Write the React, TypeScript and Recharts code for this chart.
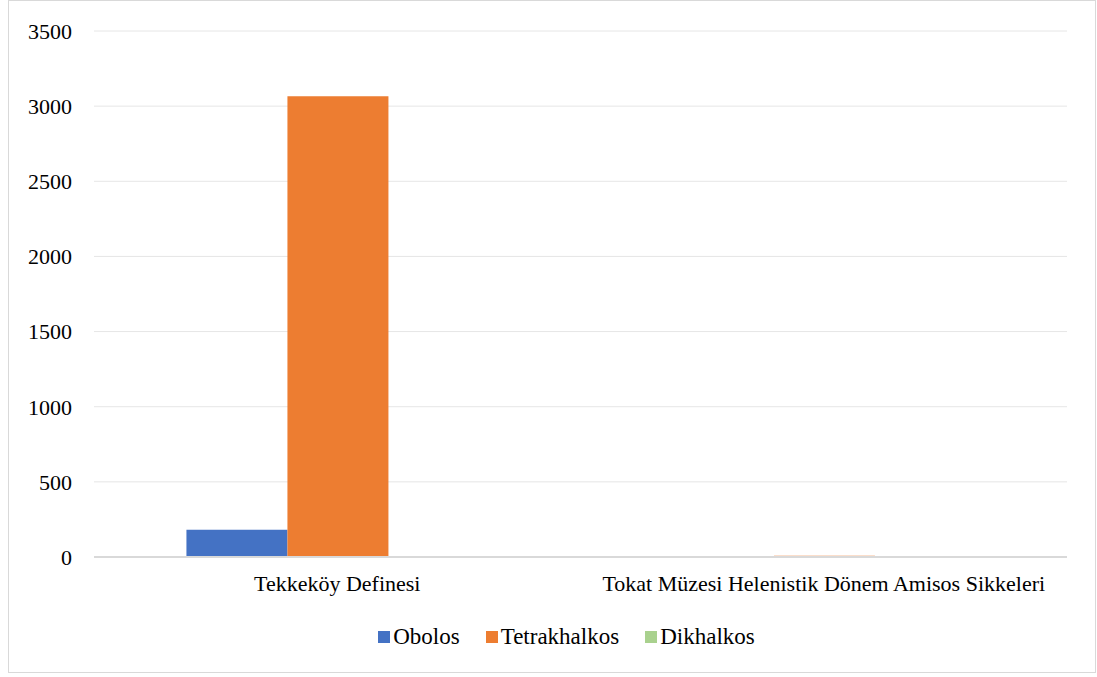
import { BarChart, Bar, XAxis, YAxis, CartesianGrid, Legend } from 'recharts';

const categories = ['Tekkeköy Definesi', 'Tokat Müzesi Helenistik Dönem Amisos Sikkeleri'];
const obolos = [182, 0];
const tetrakhalkos = [3066, 8];
const dikhalkos = [0, 7];
const yTicks = [0, 500, 1000, 1500, 2000, 2500, 3000, 3500];

const seriesList = [
  { key: 'obolos', name: 'Obolos', color: '#4472C4' },
  { key: 'tetrakhalkos', name: 'Tetrakhalkos', color: '#ED7D31' },
  { key: 'dikhalkos', name: 'Dikhalkos', color: '#A9D18E' },
];

const data = categories.map((name, i) => ({
  name,
  obolos: obolos[i],
  tetrakhalkos: tetrakhalkos[i],
  dikhalkos: dikhalkos[i],
}));

const font = 'Liberation Serif, Tinos, DejaVu Serif, serif';

function LegendContent() {
  return (
    <div
      style={{
        display: 'flex',
        justifyContent: 'center',
        gap: 26,
        marginLeft: 85,
        marginRight: 28,
        fontFamily: font,
        fontSize: 23,
        color: '#000',
      }}
    >
      {seriesList.map((s) => (
        <div key={s.key} style={{ display: 'flex', alignItems: 'center' }}>
          <span style={{ display: 'inline-block', width: 12, height: 12, background: s.color, marginRight: 3 }} />
          <span>{s.name}</span>
        </div>
      ))}
    </div>
  );
}

export default function App() {
  return (
    <div
      style={{
        position: 'absolute',
        left: 8,
        top: 0,
        width: 1086,
        height: 671,
        border: '1px solid #d9d9d9',
        background: '#fff',
        fontFamily: font,
      }}
    >
      <BarChart
        width={1086}
        height={671}
        data={data}
        margin={{ top: 30, right: 28, left: 0, bottom: 22 }}
        barCategoryGap="19%"
        barGap={0}
      >
        <CartesianGrid vertical={false} stroke="#e6e6e6" />
        <XAxis
          dataKey="name"
          tickLine={false}
          axisLine={{ stroke: '#d9d9d9', strokeWidth: 2 }}
          tick={{ fill: '#000', fontSize: 22, fontFamily: font }}
          tickMargin={12}
          height={67}
          interval={0}
        />
        <YAxis
          width={85}
          domain={[0, 3500]}
          ticks={yTicks}
          tickLine={false}
          axisLine={false}
          tick={{ fill: '#000', fontSize: 22, fontFamily: font }}
          tickMargin={16}
        />
        <Legend verticalAlign="bottom" content={<LegendContent />} />
        {seriesList.map((s) => (
          <Bar key={s.key} dataKey={s.key} name={s.name} fill={s.color} isAnimationActive={false} />
        ))}
      </BarChart>
    </div>
  );
}
